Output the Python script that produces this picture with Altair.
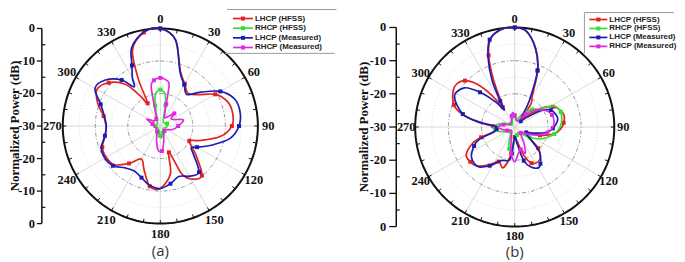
import altair as alt
import pandas as pd

SERIES = ["LHCP (HFSS)", "RHCP (HFSS)", "LHCP (Measured)", "RHCP (Measured)"]
COLORS = ["#e3221d", "#33e033", "#1d1db5", "#e028e0"]

# ---------------- panel (a): angle (deg, clockwise from top) / normalized power (dB)
A_LHCP_HFSS_ANG = [0, 10, 20, 30, 40, 50, 60, 70, 80, 90, 100, 110, 117, 125, 130, 140, 150, 156, 162, 168,
                   180, 190, 200, 210, 220, 230, 240, 250, 260, 270, 280, 290, 300, 310, 320, 326, 331, 335, 340, 350]
A_LHCP_HFSS_DB = [0, -3.2, -12.0, -15.0, -16.8, -15.0, -10.5, -8.0, -7.4, -8.0, -11.3, -17.0, -20.0, -17.7, -15.5,
                  -10.1, -11.2, -14.0, -21.5, -15.0, -10.8, -11.2, -15.5, -18.3, -15.0, -11.5, -10.8, -11.0, -12.8,
                  -13.3, -12.3, -9.5, -7.5, -9.3, -13.2, -18.5, -22.0, -14.0, -5.0, -0.8]

A_RHCP_HFSS_ANG = [0, 5, 9, 14, 20, 40, 70, 100, 130, 160, 170, 176, 183, 195, 230, 270, 310, 340, 346, 351, 355]
A_RHCP_HFSS_DB = [-18.8, -19.3, -20.2, -23.5, -27.0, -28.5, -27.8, -28.0, -28.8, -27.8, -26.8, -26.3, -27.0,
                  -28.5, -29.0, -28.5, -28.8, -27.0, -23.5, -20.2, -19.3]

A_LHCP_MEAS_ANG = [0, 10, 20, 30, 40, 50, 60, 70, 80, 90, 100, 110, 120, 125, 130, 140, 150, 160, 170, 180,
                   190, 200, 210, 220, 230, 240, 250, 260, 270, 280, 290, 300, 310, 320, 326, 330, 335, 340, 350]
A_LHCP_MEAS_DB = [0, -3.0, -12.3, -15.3, -17.3, -13.8, -8.7, -5.7, -5.1, -5.8, -8.2, -13.0, -17.0, -18.4, -16.8,
                  -11.5, -12.2, -13.5, -12.0, -10.8, -11.4, -13.1, -14.0, -13.2, -11.0, -10.3, -10.7, -12.7,
                  -13.4, -12.5, -10.5, -6.8, -8.0, -11.5, -15.5, -12.8, -9.4, -4.3, -0.6]

A_RHCP_MEAS_ANG = [0, 8, 12, 15, 20, 30, 48, 58, 75, 90, 106, 120, 140, 160, 168, 176, 185, 195, 210, 240,
                   270, 285, 297, 310, 330, 343, 347, 352]
A_RHCP_MEAS_DB = [-15.2, -15.8, -17.0, -23.0, -26.0, -27.0, -24.2, -26.0, -22.7, -24.5, -26.1, -27.8, -28.0,
                  -27.0, -25.0, -22.3, -22.5, -25.5, -28.0, -28.5, -28.0, -27.5, -25.3, -27.5, -27.5, -24.0,
                  -17.5, -15.8]

# ---------------- panel (b)
B_LHCP_HFSS_ANG = [0, 7, 15, 22, 29, 35, 40, 47, 55, 62, 70, 77, 85, 92, 100, 108, 115, 125, 132, 140,
                   147, 155, 162, 170, 180, 188, 196, 205, 215, 225, 232, 240, 248, 253, 258, 265, 272, 278, 284,
                   290, 299, 306, 313, 319, 324, 329, 332, 336, 340, 345, 352]
B_LHCP_HFSS_DB = [0, -1.0, -5.5, -11.5, -19.0, -21.5, -26.0, -25.0, -20.0, -17.0, -15.3, -14.7, -15.2, -16.1,
                  -18.0, -22.0, -26.0, -25.0, -20.5, -18.0, -17.4, -18.0, -21.0, -25.5, -27.0, -21.5, -17.2, -18.5,
                  -16.0, -13.5, -13.0, -13.1, -16.0, -19.4, -24.0, -25.0, -23.5, -18.5, -13.5, -10.5, -8.7, -8.2,
                  -9.5, -13.0, -18.0, -23.0, -21.0, -14.0, -7.0, -2.3, -0.3]

B_RHCP_HFSS_ANG = [0, 15, 31, 45, 54, 62, 72, 80, 90, 100, 108, 116, 125, 135, 150, 165, 180, 188, 194, 200,
                   210, 230, 250, 260, 270, 280, 290, 310, 330, 345]
B_RHCP_HFSS_DB = [-26.5, -27.5, -25.4, -22.5, -20.8, -16.5, -15.4, -15.6, -16.3, -17.9, -19.8, -21.8, -24.5,
                  -27.0, -28.0, -27.5, -26.0, -23.5, -23.2, -25.0, -27.5, -28.0, -26.0, -23.8, -24.0, -25.0,
                  -27.0, -28.5, -28.5, -27.5]

B_LHCP_MEAS_ANG = [0, 7, 15, 22, 29, 35, 45, 52, 58, 65, 75, 82, 92, 100, 108, 115, 125, 135, 145, 150,
                   158, 165, 172, 180, 186, 190, 202, 213, 223, 235, 245, 251, 256, 264, 272, 278, 284, 297, 308,
                   315, 323, 328, 331, 334, 339, 344, 352]
B_LHCP_MEAS_DB = [0, -0.9, -5.7, -11.7, -21.0, -26.5, -27.5, -25.0, -20.5, -18.0, -16.9, -17.0, -18.5, -20.5,
                  -24.0, -26.2, -25.0, -19.5, -16.5, -15.8, -17.0, -19.5, -25.0, -27.0, -22.0, -19.8, -19.1,
                  -16.1, -13.7, -14.1, -16.5, -18.8, -23.2, -24.5, -24.4, -19.3, -13.9, -9.6, -10.8, -15.2,
                  -20.7, -24.0, -21.0, -14.5, -7.6, -2.6, -0.3]

B_RHCP_MEAS_ANG = [0, 15, 30, 40, 50, 62, 72, 81, 90, 100, 110, 120, 135, 150, 158, 165, 172, 180, 188, 200,
                   220, 245, 262, 270, 282, 300, 330, 345, 352]
B_RHCP_MEAS_DB = [-26.5, -28.0, -27.5, -25.0, -22.0, -19.4, -18.2, -18.0, -18.5, -20.0, -23.0, -26.0, -27.5,
                  -24.5, -21.5, -23.0, -22.0, -19.5, -22.0, -27.0, -28.5, -27.5, -25.9, -25.0, -26.5, -28.5,
                  -28.0, -26.5, -25.6]

A_DATA = [(A_LHCP_HFSS_ANG, A_LHCP_HFSS_DB), (A_RHCP_HFSS_ANG, A_RHCP_HFSS_DB),
          (A_LHCP_MEAS_ANG, A_LHCP_MEAS_DB), (A_RHCP_MEAS_ANG, A_RHCP_MEAS_DB)]
B_DATA = [(B_LHCP_HFSS_ANG, B_LHCP_HFSS_DB), (B_RHCP_HFSS_ANG, B_RHCP_HFSS_DB),
          (B_LHCP_MEAS_ANG, B_LHCP_MEAS_DB), (B_RHCP_MEAS_ANG, B_RHCP_MEAS_DB)]

DB_MIN, DB_MAX = -30, 0
ANGLE_TICKS = list(range(0, 360, 30))
RING_MAJOR = [-10, -20]
RING_MINOR = [-5, -15, -25]
AXIS_DB = [0, -10, -20, -30, -20, -10, 0]
AXIS_SIDE = [1, 1, 1, 0, -1, -1, -1]
MINOR_DB = [-5, -15, -25, -25, -15, -5]
MINOR_SIDE = [1, 1, 1, -1, -1, -1]
AXIS_TITLE = "Normalized Power (dB)"

# ---------------- layout (page pixels)
TOP = 8
H = 246
PANELS = [
    dict(left=8, width=334, cx=161, cy=122, r=98, lab_off=10.5, axis_x=42, tick=5, label_x=35, title_x=15.5,
         caption="(a)", cap_y=248,
         leg_x0=234, leg_x1=254, leg_tx=256, leg_ys=[14, 23.7, 33.4, 43.1],
         leg_border=[(228, 5, 338, 5), (226, 49, 336, 49)]),
    dict(left=342, width=335, cx=517, cy=123, r=100, lab_off=9, axis_x=398, tick=7, label_x=388, title_x=366,
         caption="(b)", cap_y=249,
         leg_x0=592, leg_x1=610, leg_tx=612, leg_ys=[15, 24, 33, 42],
         leg_border=[(587, 8, 677, 8), (587, 8, 587, 49)]),
]

SERIF = "Liberation Serif"
SANS = "Liberation Sans"


def make_panel(P, data):
    L = P["left"]
    W = P["width"]
    cx, cy, R = P["cx"] - L, P["cy"] - TOP, P["r"]
    RL = R + P["lab_off"]
    xs = alt.Scale(domain=[0, W], nice=False, zero=False)
    ys = alt.Scale(domain=[0, H], nice=False, zero=False, reverse=True)

    def X(f):
        return alt.X(f"{f}:Q", scale=xs, axis=None)

    def Y(f):
        return alt.Y(f"{f}:Q", scale=ys, axis=None)

    rho = f"(datum.db - ({DB_MIN})) / ({DB_MAX - DB_MIN}) * {R}"

    def polar(ch, rexpr="datum.rho"):
        return ch.transform_calculate(rho=rho).transform_calculate(
            px=f"{cx} + ({rexpr}) * sin(datum.angle * PI / 180)",
            py=f"{cy} - ({rexpr}) * cos(datum.angle * PI / 180)")

    ring_angles = list(range(0, 360, 2))

    def rings(levels, **style):
        df = pd.DataFrame([(lv, a) for lv in levels for a in ring_angles], columns=["db", "angle"])
        return polar(alt.Chart(df)).mark_line(interpolate="linear-closed", **style).encode(
            X("px"), Y("py"), detail="db:N", order="angle:Q")

    layers = []
    layers.append(rings(RING_MINOR, color="#bfe0bf", strokeWidth=0.8, strokeDash=[1, 2]))
    spokes = alt.Chart(pd.DataFrame({"angle": ANGLE_TICKS})).transform_calculate(
        px=f"{cx}", py=f"{cy}",
        px2=f"{cx} + {R} * sin(datum.angle * PI / 180)",
        py2=f"{cy} - {R} * cos(datum.angle * PI / 180)",
    ).mark_rule(color="#cfcfcf", strokeWidth=0.8).encode(X("px"), Y("py"), x2="px2:Q", y2="py2:Q")
    layers.append(spokes)
    layers.append(rings(RING_MAJOR, color="#737a8c", strokeWidth=0.8, strokeDash=[4, 2, 1, 2]))
    layers.append(rings([DB_MAX], color="#111111", strokeWidth=2))

    oticks = alt.Chart(pd.DataFrame({"angle": list(range(0, 360, 10))})).transform_calculate(
        px=f"{cx} + {R} * sin(datum.angle * PI / 180)",
        py=f"{cy} - {R} * cos(datum.angle * PI / 180)",
        px2=f"{cx} + {R - 3.5} * sin(datum.angle * PI / 180)",
        py2=f"{cy} - {R - 3.5} * cos(datum.angle * PI / 180)",
    ).mark_rule(color="#111111", strokeWidth=1).encode(X("px"), Y("py"), x2="px2:Q", y2="py2:Q")
    layers.append(oticks)

    alabels = alt.Chart(pd.DataFrame({"angle": ANGLE_TICKS})).transform_calculate(
        lbl="'' + datum.angle",
        px=f"{cx} + {RL} * sin(datum.angle * PI / 180)",
        py=f"max(7, {cy} - {RL} * cos(datum.angle * PI / 180))",
    ).mark_text(font=SERIF, fontWeight="bold", fontSize=12.5, color="#111111",
                align="center", baseline="middle").encode(X("px"), Y("py"), text="lbl:N")
    layers.append(alabels)

    # left dB axis
    ax = P["axis_x"] - L
    one = pd.DataFrame({"db": [DB_MIN]})
    layers.append(alt.Chart(one).mark_rule(color="#111111", strokeWidth=1.5).encode(
        x=alt.value(ax), y=alt.value(cy - R), y2=alt.value(cy + R)))
    axdf = pd.DataFrame({"db": AXIS_DB, "side": AXIS_SIDE})
    axb = alt.Chart(axdf).transform_calculate(rho=rho).transform_calculate(
        py=f"{cy} - datum.side * datum.rho", lbl="'' + datum.db")
    layers.append(axb.mark_rule(color="#111111", strokeWidth=1.3).encode(
        x=alt.value(ax - P["tick"]), x2=alt.value(ax), y=Y("py")))
    layers.append(axb.mark_text(font=SERIF, fontWeight="bold", fontSize=12.5, color="#111111",
                                align="right", baseline="middle").encode(
        x=alt.value(P["label_x"] - L), y=Y("py"), text="lbl:N"))
    mndf = pd.DataFrame({"db": MINOR_DB, "side": MINOR_SIDE})
    layers.append(alt.Chart(mndf).transform_calculate(rho=rho).transform_calculate(
        py=f"{cy} - datum.side * datum.rho").mark_rule(color="#111111", strokeWidth=1.2).encode(
        x=alt.value(ax), x2=alt.value(ax + 3.5), y=Y("py")))
    layers.append(alt.Chart(one).mark_text(font=SERIF, fontWeight="bold", fontSize=13, angle=270,
                                           color="#111111", align="center", baseline="middle").encode(
        x=alt.value(P["title_x"] - L), y=alt.value(cy), text=alt.value(AXIS_TITLE)))

    # series
    for name, color, (ang, db) in zip(SERIES, COLORS, data):
        df = pd.DataFrame({"angle": ang, "db": db})
        base = polar(alt.Chart(df))
        layers.append(base.mark_line(interpolate="cardinal-closed", color=color, strokeWidth=1.7).encode(
            X("px"), Y("py"), order="angle:Q"))
        layers.append(base.transform_window(rn="row_number()", sort=[alt.SortField("angle")]).transform_filter(
            "datum.rn % 3 == 1").mark_square(color=color, size=16, opacity=1).encode(X("px"), Y("py")))

    # legend
    ldf = pd.DataFrame({"series": SERIES, "ly": P["leg_ys"]})
    cscale = alt.Scale(domain=SERIES, range=COLORS)
    lbase = alt.Chart(ldf).transform_calculate(lyy=f"datum.ly - {TOP}")
    layers.append(lbase.mark_rule(strokeWidth=1.7).encode(
        x=alt.value(P["leg_x0"] - L), x2=alt.value(P["leg_x1"] - L), y=Y("lyy"),
        color=alt.Color("series:N", scale=cscale, legend=None)))
    layers.append(lbase.mark_square(size=16, opacity=1).encode(
        x=alt.value((P["leg_x0"] + P["leg_x1"]) / 2 - L), y=Y("lyy"),
        color=alt.Color("series:N", scale=cscale, legend=None)))
    layers.append(lbase.mark_text(font=SANS, fontWeight="bold", fontSize=8, color="#222222",
                                  align="left", baseline="middle").encode(
        x=alt.value(P["leg_tx"] - L), y=Y("lyy"), text="series:N"))
    bdf = pd.DataFrame([(a - L, b - TOP, c - L, d - TOP) for a, b, c, d in P["leg_border"]],
                       columns=["bx", "by", "bx2", "by2"])
    layers.append(alt.Chart(bdf).mark_rule(color="#9a9a9a", strokeWidth=1).encode(
        X("bx"), Y("by"), x2="bx2:Q", y2="by2:Q"))

    # caption
    layers.append(alt.Chart(one).mark_text(font="Open Sans", fontSize=15, color="#333333",
                                           align="center", baseline="middle").encode(
        x=alt.value(cx), y=alt.value(P["cap_y"] - TOP), text=alt.value(P["caption"])))

    return alt.layer(*layers).properties(width=W, height=H)


pa = make_panel(PANELS[0], A_DATA)
pb = make_panel(PANELS[1], B_DATA)

chart = alt.hconcat(pa, pb, spacing=0).properties(padding=0).configure_view(stroke=None)
chart.save("out.html", embed_options={"renderer": "svg", "actions": False})
